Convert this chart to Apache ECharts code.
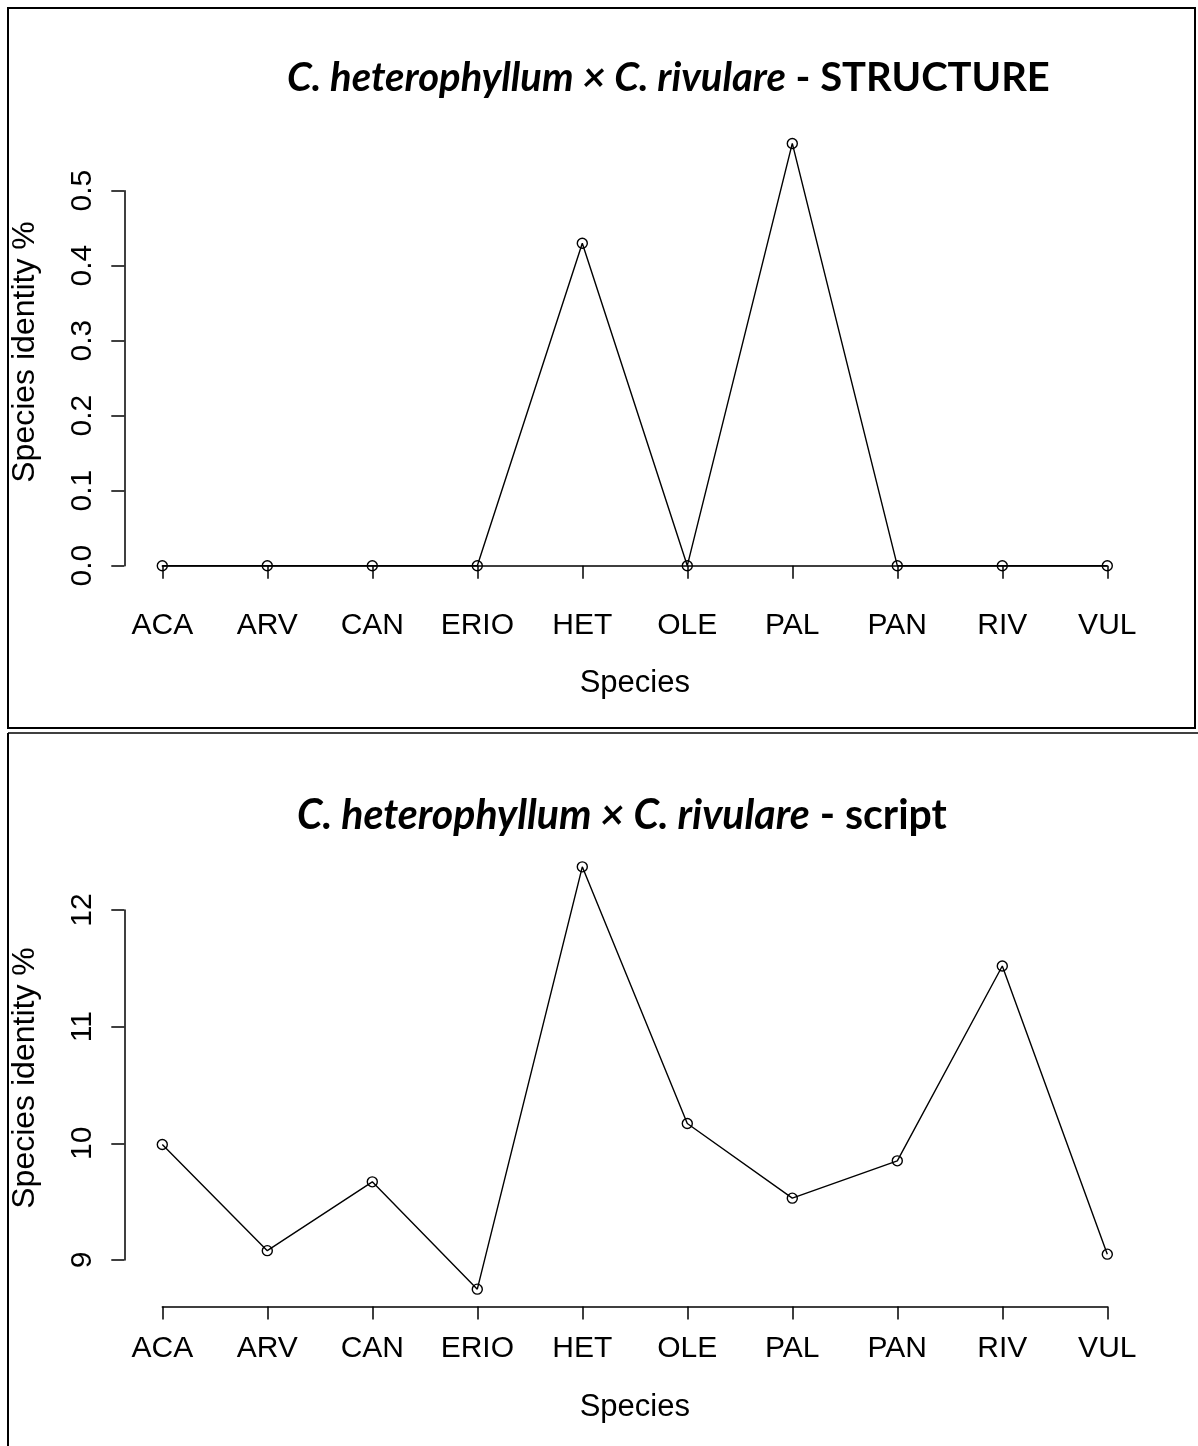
<!DOCTYPE html>
<html>
<head>
<meta charset="utf-8">
<script src="https://cdn.jsdelivr.net/npm/echarts@6/dist/echarts.min.js"></script>
<style>
  html, body { margin: 0; padding: 0; background: #fff; }
  #chart { width: 1198px; height: 1446px; }
</style>
</head>
<body>
<div id="chart"></div>
<script>
// Species codes along the x axis (shared by both panels)
const species = ['ACA', 'ARV', 'CAN', 'ERIO', 'HET', 'OLE', 'PAL', 'PAN', 'RIV', 'VUL'];

// Upper panel: STRUCTURE assignment
const structureValues = [0, 0, 0, 0, 0.430, 0, 0.563, 0, 0, 0];
const structureTicks = { min: 0, max: 0.5, interval: 0.1 };

// Lower panel: script assignment
const scriptValues = [9.99, 9.08, 9.67, 8.75, 12.37, 10.17, 9.53, 9.85, 11.52, 9.05];
const scriptTicks = { min: 9, max: 12, interval: 1 };

const taxonText = 'C. heterophyllum \u00d7 C. rivulare';
const methodTop = ' - STRUCTURE';
const methodBottom = ' - script';

const axisFont = '"Liberation Sans", Arial, sans-serif';
const titleFont = 'Lato, "Open Sans", sans-serif';

// pick the title font size so the heading spans the wanted width
function fitTitle(method, targetWidth) {
  const c = document.createElement('canvas').getContext('2d');
  c.font = 'italic bold 100px ' + titleFont;
  let w = c.measureText(taxonText).width;
  c.font = 'bold 100px ' + titleFont;
  w += c.measureText(method).width;
  return 100 * targetWidth / w;
}

const chart = echarts.init(document.getElementById('chart'), null, { renderer: 'canvas' });

function xAxisFor(gridIndex, offset) {
  return {
    type: 'category', gridIndex: gridIndex, data: species, boundaryGap: false,
    offset: offset,
    axisLine: { show: true, lineStyle: { color: '#000', width: 1.5 } },
    axisTick: { show: true, length: 13, lineStyle: { color: '#000', width: 1.5 } },
    axisLabel: { color: '#000', fontSize: 30, fontFamily: axisFont, margin: 27 },
    name: 'Species', nameLocation: 'middle', nameGap: 85,
    nameTextStyle: { color: '#000', fontSize: 31, fontFamily: axisFont }
  };
}

function yAxisFor(gridIndex, ticks, fmt) {
  return {
    type: 'value', gridIndex: gridIndex,
    min: ticks.min, max: ticks.max, interval: ticks.interval,
    offset: 38,
    splitLine: { show: false },
    axisLine: { show: true, lineStyle: { color: '#000', width: 1.5 } },
    axisTick: { show: true, length: 13, lineStyle: { color: '#000', width: 1.5 } },
    axisLabel: { color: '#000', fontSize: 30, fontFamily: axisFont, rotate: 90, margin: 27, formatter: fmt }
  };
}

function seriesFor(idx, values) {
  return {
    type: 'line', xAxisIndex: idx, yAxisIndex: idx, data: values,
    clip: false, symbol: 'circle', symbolSize: 10, showSymbol: true,
    lineStyle: { color: '#000', width: 1.4 },
    itemStyle: { color: 'rgba(255,255,255,0)', borderColor: '#000', borderWidth: 1.4 },
    emphasis: { disabled: true }, animation: false
  };
}

const topSize = fitTitle(methodTop, 763);
const botSize = fitTitle(methodBottom, 650);

function titleText(method, size, left, midY) {
  return {
    type: 'text', left: left, top: midY - size * 0.6,
    style: {
      text: '{i|' + taxonText + '}{b|' + method + '}',
      rich: {
        i: { fontFamily: titleFont, fontStyle: 'italic', fontWeight: 'bold', fontSize: size, fill: '#000' },
        b: { fontFamily: titleFont, fontWeight: 'bold', fontSize: size, fill: '#000' }
      }
    }
  };
}

function yName(cx, cy) {
  return {
    type: 'text', x: cx, y: cy, rotation: Math.PI / 2,
    style: {
      text: 'Species identity %', fontFamily: axisFont, fontSize: 32, fill: '#000',
      align: 'center', verticalAlign: 'middle'
    }
  };
}

chart.setOption({
  animation: false,
  backgroundColor: '#fff',
  grid: [
    { left: 162.3, right: 90.7, top: 190.7, bottom: 1446 - 565.7 },
    { left: 162.3, right: 90.7, top: 910, bottom: 1446 - 1260 }
  ],
  xAxis: [xAxisFor(0, 17.6), xAxisFor(1, 46.5)],
  yAxis: [
    yAxisFor(0, structureTicks, v => v.toFixed(1)),
    yAxisFor(1, scriptTicks, v => String(v))
  ],
  series: [seriesFor(0, structureValues), seriesFor(1, scriptValues)],
  graphic: [
    // panel frames
    { type: 'rect', shape: { x: 8, y: 8, width: 1187, height: 720 },
      style: { fill: 'none', stroke: '#000', lineWidth: 2 } },
    { type: 'line', shape: { x1: 8, y1: 733, x2: 1198, y2: 733 },
      style: { stroke: '#000', lineWidth: 1.5 } },
    { type: 'line', shape: { x1: 8, y1: 733, x2: 8, y2: 1446 },
      style: { stroke: '#000', lineWidth: 2 } },
    titleText(methodTop, topSize, 287, 82),
    titleText(methodBottom, botSize, 297, 820),
    yName(25, 352),
    yName(25, 1078)
  ]
});
</script>
</body>
</html>
